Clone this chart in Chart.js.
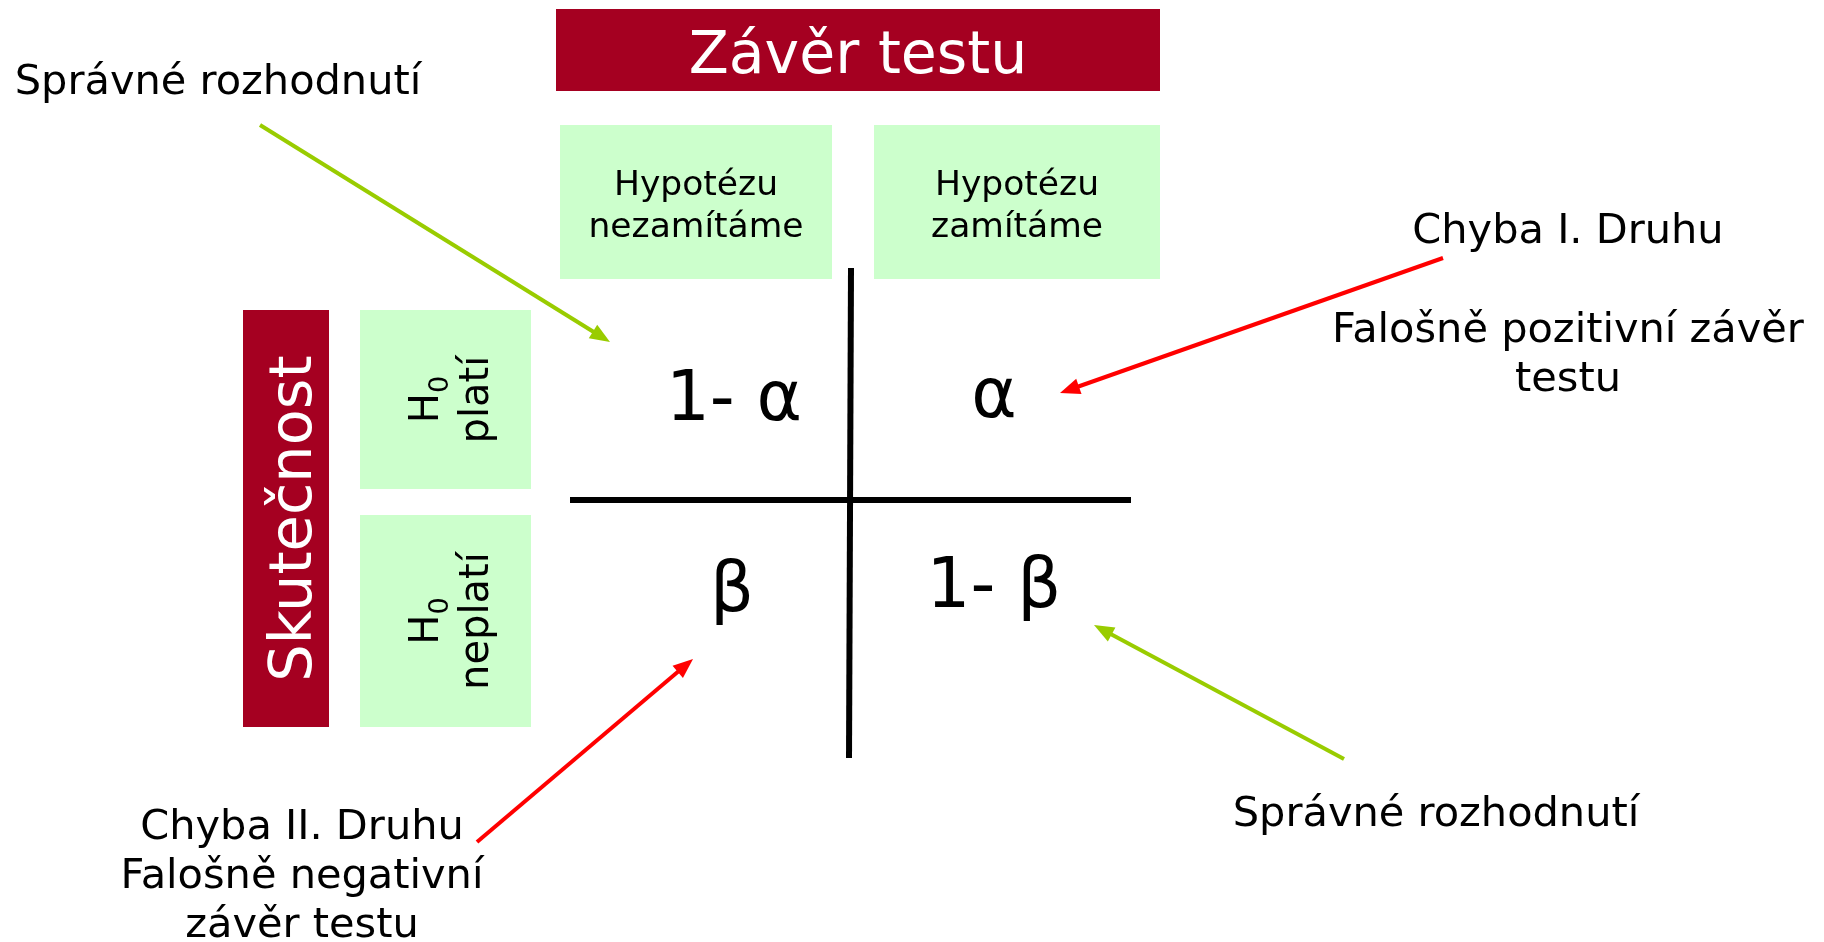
<!DOCTYPE html>
<html>
<head>
<meta charset="utf-8">
<script src="https://cdn.jsdelivr.net/npm/chart.js@4/dist/chart.umd.min.js"></script>
<style>
  html, body { margin: 0; padding: 0; background: #fff; }
  #wrap { width: 1824px; height: 942px; }
</style>
</head>
<body>
<div id="wrap"><canvas id="diagram" width="1824" height="942"></canvas></div>
<script>
// Texts of the decision table
const titleLabel = 'Závěr testu';
const sideLabel = 'Skutečnost';
const columnLabels = [['Hypotézu', 'nezamítáme'], ['Hypotézu', 'zamítáme']];
const rowLabels = [['H', '0', 'platí'], ['H', '0', 'neplatí']];
const cellValues = ['1- α', 'α', 'β', '1- β'];
const noteLabels = [
    ['Správné rozhodnutí'],
    ['Chyba I. Druhu'],
    ['Falošně pozitivní závěr', 'testu'],
    ['Chyba II. Druhu', 'Falošně negativní', 'závěr testu'],
    ['Správné rozhodnutí']
];
const arrowKinds = ['correct', 'error', 'error', 'correct'];

// Layout of the slide, in diagram units (x to the right, y downwards)
const titleBox = [556, 9, 1160, 91];
const sideBox = [243, 310, 329, 727];
const columnBoxes = [[560, 125, 832, 279], [874, 125, 1160, 279]];
const rowBoxes = [[360, 310, 531, 489], [360, 515, 531, 727]];
const cellAnchors = [[734, 420], [994, 417], [732, 611], [994, 607]];
const noteAnchors = [[218, 94], [1568, 243], [1568, 342], [302, 839], [1436, 826]];
const dividerV = [{ x: 851, y: 268 }, { x: 849, y: 758 }];
const dividerH = [{ x: 570, y: 500 }, { x: 1131, y: 500 }];
const arrowStarts = [[260, 125], [1443, 258], [477, 842], [1344, 759]];
const arrowTips = [[610, 342], [1060, 393], [693, 659], [1094, 625]];

// Colours
const darkRed = '#A50021';
const lightGreen = '#CCFFCC';
const arrowColors = { correct: '#99CC00', error: '#FF0000' };
const FONT = '"DejaVu Sans", Verdana, sans-serif';

function toPx(chart, x, y) {
    return [chart.scales.x.getPixelForValue(x), chart.scales.y.getPixelForValue(y)];
}

function fillBox(chart, box, color) {
    const ctx = chart.ctx;
    const [x0, y0] = toPx(chart, box[0], box[1]);
    const [x1, y1] = toPx(chart, box[2], box[3]);
    ctx.fillStyle = color;
    ctx.fillRect(x0, y0, x1 - x0, y1 - y0);
}

// Boxes and the texts inside them, drawn under the lines
const boxesPlugin = {
    id: 'boxesPlugin',
    beforeDatasetsDraw(chart) {
        const ctx = chart.ctx;
        ctx.save();

        // "Závěr testu"
        fillBox(chart, titleBox, darkRed);
        let [cx, cy] = toPx(chart, (titleBox[0] + titleBox[2]) / 2, 73);
        ctx.fillStyle = '#fff';
        ctx.font = '58.5px ' + FONT;
        ctx.textAlign = 'center';
        ctx.textBaseline = 'alphabetic';
        ctx.fillText(titleLabel, cx, cy);

        // column headers
        columnBoxes.forEach((box, i) => {
            fillBox(chart, box, lightGreen);
            const mid = (box[0] + box[2]) / 2;
            ctx.fillStyle = '#000';
            ctx.font = '34.5px ' + FONT;
            columnLabels[i].forEach((line, j) => {
                const [px, py] = toPx(chart, mid, 195 + j * 42);
                ctx.fillText(line, px, py);
            });
        });

        // "Skutečnost", rotated
        fillBox(chart, sideBox, darkRed);
        [cx, cy] = toPx(chart, (sideBox[0] + sideBox[2]) / 2, (sideBox[1] + sideBox[3]) / 2);
        ctx.save();
        ctx.translate(cx, cy);
        ctx.rotate(-Math.PI / 2);
        ctx.fillStyle = '#fff';
        ctx.font = '59px ' + FONT;
        ctx.textAlign = 'center';
        ctx.fillText(sideLabel, 0, 25);
        ctx.restore();

        // row headers "H0 platí" / "H0 neplatí", rotated
        rowBoxes.forEach((box, i) => {
            fillBox(chart, box, lightGreen);
            const [bx, by] = toPx(chart, (box[0] + box[2]) / 2, (box[1] + box[3]) / 2);
            const [h, sub, word] = rowLabels[i];
            ctx.save();
            ctx.translate(bx, by);
            ctx.rotate(-Math.PI / 2);
            ctx.fillStyle = '#000';
            ctx.textAlign = 'left';
            ctx.font = '40px ' + FONT;
            const hw = ctx.measureText(h).width;
            ctx.font = '27px ' + FONT;
            const sw = ctx.measureText(sub).width;
            const start = -(hw + sw) / 2;
            ctx.font = '40px ' + FONT;
            ctx.fillText(h, start, -8);
            ctx.font = '27px ' + FONT;
            ctx.fillText(sub, start + hw, 2);
            ctx.font = '40px ' + FONT;
            ctx.textAlign = 'center';
            ctx.fillText(word, 0, 42);
            ctx.restore();
        });

        ctx.restore();
    },

    // cell values, notes and arrow heads on top
    afterDatasetsDraw(chart) {
        const ctx = chart.ctx;
        ctx.save();
        ctx.fillStyle = '#000';
        ctx.textAlign = 'center';
        ctx.textBaseline = 'alphabetic';

        ctx.font = '69px ' + FONT;
        cellValues.forEach((v, i) => {
            const [px, py] = toPx(chart, cellAnchors[i][0], cellAnchors[i][1]);
            ctx.fillText(v, px, py);
        });

        ctx.font = '41.5px ' + FONT;
        noteLabels.forEach((lines, i) => {
            lines.forEach((line, j) => {
                const [px, py] = toPx(chart, noteAnchors[i][0], noteAnchors[i][1] + j * 49);
                ctx.fillText(line, px, py);
            });
        });

        arrowTips.forEach((tip, i) => {
            const [tx, ty] = toPx(chart, tip[0], tip[1]);
            const [sx, sy] = toPx(chart, arrowStarts[i][0], arrowStarts[i][1]);
            const ang = Math.atan2(ty - sy, tx - sx);
            const len = 20, half = 8;
            ctx.fillStyle = arrowColors[arrowKinds[i]];
            ctx.beginPath();
            ctx.moveTo(tx, ty);
            ctx.lineTo(tx - len * Math.cos(ang) + half * Math.sin(ang), ty - len * Math.sin(ang) - half * Math.cos(ang));
            ctx.lineTo(tx - len * Math.cos(ang) - half * Math.sin(ang), ty - len * Math.sin(ang) + half * Math.cos(ang));
            ctx.closePath();
            ctx.fill();
        });

        ctx.restore();
    }
};

// line datasets: the cross of the table and the arrow shafts
const datasets = [
    { data: dividerV, borderColor: '#000', borderWidth: 6 },
    { data: dividerH, borderColor: '#000', borderWidth: 6 }
];
arrowStarts.forEach((s, i) => {
    // shaft stops just inside the arrow head
    const t = arrowTips[i];
    const d = Math.hypot(t[0] - s[0], t[1] - s[1]);
    const k = (d - 12) / d;
    datasets.push({
        data: [{ x: s[0], y: s[1] }, { x: s[0] + (t[0] - s[0]) * k, y: s[1] + (t[1] - s[1]) * k }],
        borderColor: arrowColors[arrowKinds[i]],
        borderWidth: 4
    });
});
datasets.forEach(ds => {
    ds.showLine = true;
    ds.pointRadius = 0;
    ds.fill = false;
    ds.borderCapStyle = 'butt';
});

new Chart(document.getElementById('diagram').getContext('2d'), {
    type: 'scatter',
    data: { datasets: datasets },
    options: {
        responsive: false,
        animation: false,
        events: [],
        layout: { padding: 0 },
        plugins: {
            legend: { display: false },
            tooltip: { enabled: false }
        },
        scales: {
            x: { type: 'linear', min: 0, max: 1824, display: false },
            y: { type: 'linear', min: 0, max: 942, reverse: true, display: false }
        }
    },
    plugins: [boxesPlugin]
});
</script>
</body>
</html>
